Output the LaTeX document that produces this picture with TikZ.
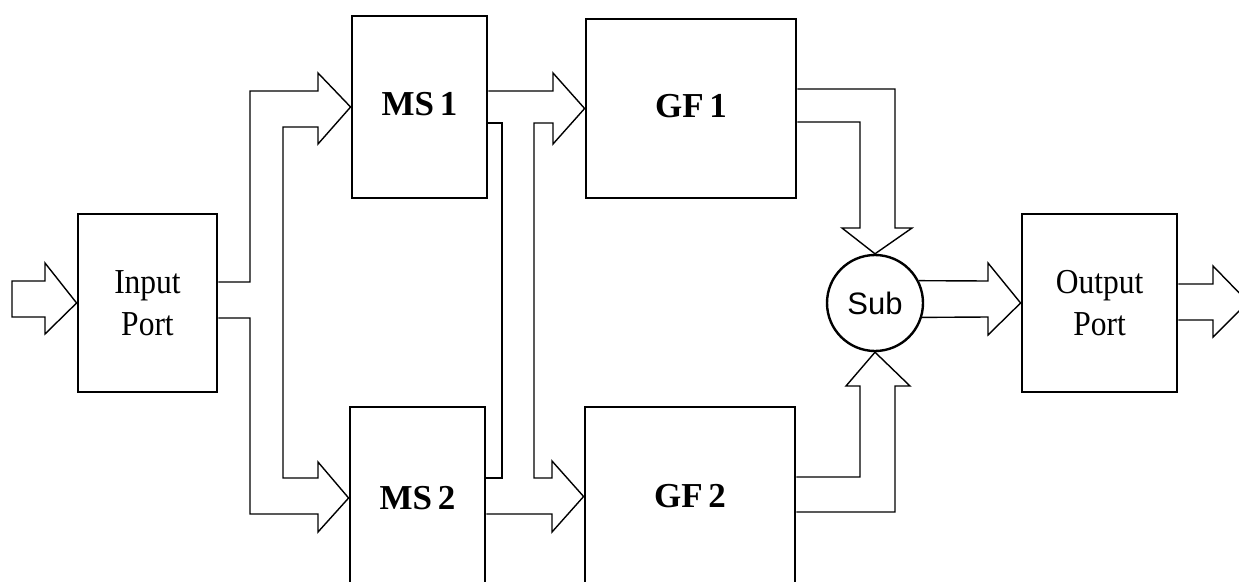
\documentclass[tikz,border=0pt]{standalone}
\usepackage{fontspec}
\setmainfont{Liberation Serif}
\newfontfamily\narrowserif[FakeStretch=0.9]{Liberation Serif}
\newfontfamily\arialfont{Liberation Sans}
\begin{document}
\begin{tikzpicture}[x=1pt,y=-1pt,
  block/.style={draw=black,line width=2.8pt,rectangle,inner sep=0pt,
                font=\narrowserif\fontsize{35}{42}\selectfont,align=center},
  boldblock/.style={block,font=\fontsize{35}{42}\selectfont\bfseries},
  junction/.style={draw=black,line width=2.4pt,circle,inner sep=0pt,minimum size=96pt,
                   font=\arialfont\fontsize{31}{36}\selectfont},
  fatarrow/.style={draw=black,line width=1.4pt,line join=miter,fill=none}]
\useasboundingbox (0,0) rectangle (1239,581);
\clip (0,0) rectangle (1239,581);

% processing blocks
\node[block,minimum width=139pt,minimum height=178pt] (ip) at (147.5,303) {Input\\Port};
\node[boldblock,minimum width=135pt,minimum height=182pt,text depth=6pt] (ms1) at (419.5,107) {MS\,1};
\node[boldblock,minimum width=135pt,minimum height=182pt] (ms2) at (417.5,498) {MS\,2};
\node[boldblock,minimum width=210pt,minimum height=179pt,text depth=5pt] (gf1) at (691,108.5) {GF\,1};
\node[boldblock,minimum width=210pt,minimum height=179pt] (gf2) at (690,496.5) {GF\,2};
\node[block,minimum width=155pt,minimum height=178pt] (op) at (1099.5,303) {Output\\Port};
\node[junction] (sub) at (875,303) {Sub};

% incoming arrow
\coordinate (src) at (12,299);
\draw[fatarrow] (src |- 0,281) -- (45,281) -- (45,263) -- (ip.west) -- (45,334) -- (45,317)
  -- (src |- 0,317) -- cycle;

% input port forks to both MS blocks
\draw[fatarrow] (ip.east |- 0,282) -- (250,282) -- (250,91) -- (318,91) -- (318,73)
  -- (ms1.west) -- (318,144) -- (318,127) -- (283,127) -- (283,478) -- (318,478)
  -- (318,462) -- (ms2.west) -- (318,532) -- (318,514) -- (250,514) -- (250,318)
  -- (ip.east |- 0,318);

% MS blocks cross over to both GF blocks
\draw[fatarrow] (ms1.east |- 0,91) -- (553,91) -- (553,73) -- (gf1.west) -- (553,144)
  -- (553,123) -- (534,123) -- (534,478) -- (552,478) -- (552,461) -- (gf2.west)
  -- (552,532) -- (552,514) -- (ms2.east |- 0,514);
\draw[fatarrow] (ms1.east |- 0,123) -- (502,123) -- (502,478) -- (ms2.east |- 0,478);

% GF outputs into the subtractor
\draw[fatarrow] (gf1.east |- 0,89) -- (895,89) -- (895,228) -- (912,228) -- (sub.north)
  -- (842,228) -- (860,228) -- (860,122) -- (gf1.east |- 0,122);
\draw[fatarrow] (gf2.east |- 0,477) -- (860,477) -- (860,386) -- (846,386) -- (sub.south)
  -- (910,386) -- (895,386) -- (895,512) -- (gf2.east |- 0,512);

% subtractor to output port
\draw[fatarrow] (sub.27) -- (988,281) -- (988,263) -- (op.west) -- (988,335) -- (988,317)
  -- (sub.-17);

% outgoing arrow
\coordinate (dst) at (1248,302);
\draw[fatarrow] (op.east |- 0,284) -- (1213,284) -- (1213,266) -- (dst) -- (1213,337)
  -- (1213,320) -- (op.east |- 0,320);
\end{tikzpicture}
\end{document}
